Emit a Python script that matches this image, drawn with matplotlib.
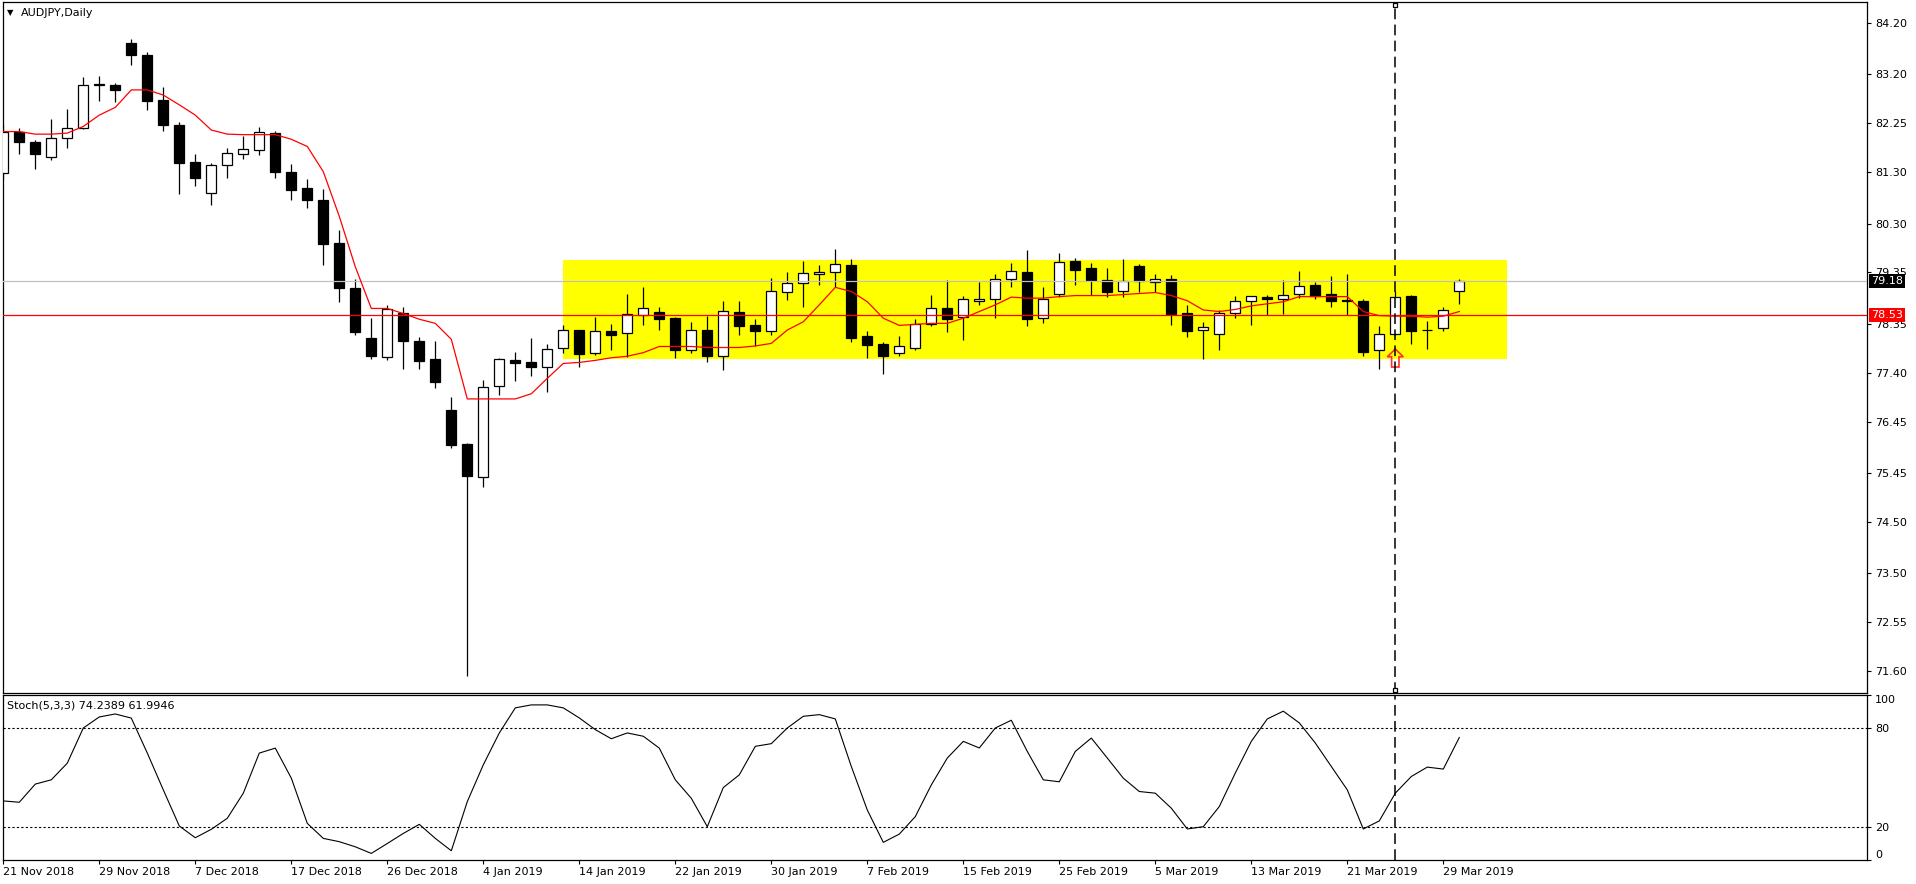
import matplotlib
matplotlib.use('Agg')
import matplotlib.pyplot as plt
from matplotlib.patches import Rectangle, Polygon

# AUDJPY daily, 21 Nov 2018 .. 1 Apr 2019 (one entry per bar)
opens = [81.29, 82.09, 81.88, 81.59, 81.96, 82.15, 83.00, 82.99, 83.81, 83.58,
         82.70, 82.22, 81.49, 80.89, 81.43, 81.65, 81.74, 82.06, 81.30, 80.99,
         80.76, 79.92, 79.05, 78.08, 77.70, 78.57, 78.02, 77.67, 76.67, 76.01,
         75.38, 77.15, 77.65, 77.61, 77.52, 77.88, 78.23, 77.79, 78.21, 78.17,
         78.53, 78.58, 78.46, 77.85, 78.23, 77.73, 78.58, 78.32, 78.22, 78.96,
         79.14, 79.31, 79.35, 79.50, 78.11, 77.96, 77.78, 77.89, 78.35, 78.65,
         78.48, 78.79, 78.83, 79.22, 79.35, 78.46, 78.94, 79.57, 79.44, 79.20,
         78.98, 79.48, 79.17, 79.22, 78.56, 78.24, 78.15, 78.57, 78.79, 78.87,
         78.84, 78.94, 79.11, 78.93, 78.81, 78.79, 77.84, 78.16, 78.89, 78.24,
         78.26, 78.98]
highs = [82.22, 82.15, 81.93, 82.34, 82.53, 83.15, 83.17, 83.04, 83.89, 83.63,
         82.95, 82.27, 81.66, 81.47, 81.77, 82.01, 82.17, 82.10, 81.46, 81.17,
         80.97, 80.18, 79.22, 78.46, 78.72, 78.68, 78.10, 78.02, 76.92, 76.03,
         77.26, 77.68, 77.80, 78.07, 77.96, 78.33, 78.24, 78.48, 78.35, 78.93,
         79.07, 78.67, 78.48, 78.39, 78.51, 78.79, 78.79, 78.44, 79.24, 79.36,
         79.57, 79.50, 79.81, 79.61, 78.21, 78.00, 78.11, 78.44, 78.91, 79.20,
         78.89, 79.17, 79.32, 79.53, 79.79, 79.06, 79.72, 79.63, 79.53, 79.44,
         79.61, 79.51, 79.32, 79.30, 78.72, 78.38, 78.62, 78.89, 78.90, 78.92,
         79.20, 79.38, 79.16, 79.28, 79.32, 78.83, 78.30, 78.99, 78.91, 78.41,
         78.68, 79.22]
lows = [81.16, 81.66, 81.37, 81.53, 81.78, 82.14, 82.69, 82.67, 83.39, 82.51,
        82.11, 80.88, 81.04, 80.67, 81.18, 81.56, 81.64, 81.19, 80.76, 80.60,
        79.50, 78.78, 78.14, 77.67, 77.65, 77.48, 77.48, 77.11, 75.94, 71.51,
        75.18, 76.97, 77.24, 77.34, 77.03, 77.78, 77.52, 77.74, 77.84, 77.71,
        78.33, 78.23, 77.69, 77.79, 77.60, 77.46, 78.14, 77.91, 78.14, 78.81,
        78.68, 79.11, 79.06, 78.00, 77.69, 77.38, 77.73, 77.84, 78.30, 78.20,
        78.04, 78.72, 78.47, 79.07, 78.30, 78.37, 78.88, 79.11, 78.91, 78.88,
        78.88, 78.97, 78.96, 78.33, 78.10, 77.67, 77.84, 78.46, 78.33, 78.52,
        78.55, 78.85, 78.83, 78.68, 78.52, 77.73, 77.48, 78.13, 77.96, 77.87,
        78.22, 78.74]
closes = [82.09, 81.88, 81.66, 81.96, 82.15, 82.99, 83.01, 82.89, 83.57, 82.69,
          82.22, 81.47, 81.19, 81.44, 81.67, 81.75, 82.08, 81.31, 80.96, 80.75,
          79.90, 79.05, 78.19, 77.73, 78.63, 78.02, 77.63, 77.21, 76.00, 75.40,
          77.12, 77.66, 77.59, 77.52, 77.86, 78.24, 77.77, 78.21, 78.14, 78.54,
          78.65, 78.45, 77.85, 78.23, 77.73, 78.60, 78.31, 78.22, 78.99, 79.14,
          79.34, 79.36, 79.51, 78.08, 77.93, 77.73, 77.91, 78.34, 78.65, 78.45,
          78.83, 78.83, 79.22, 79.37, 78.45, 78.83, 79.55, 79.40, 79.20, 78.96,
          79.18, 79.18, 79.22, 78.54, 78.22, 78.28, 78.57, 78.79, 78.89, 78.84,
          78.92, 79.09, 78.90, 78.80, 78.80, 77.81, 78.15, 78.87, 78.22, 78.24,
          78.61, 79.18]
ma_line = [82.09, 82.09, 82.04, 82.04, 82.06, 82.19, 82.41, 82.56, 82.90, 82.90,
           82.80, 82.61, 82.41, 82.12, 82.04, 82.03, 82.03, 82.03, 81.94, 81.80,
           81.31, 80.44, 79.46, 78.65, 78.65, 78.55, 78.44, 78.36, 78.05, 76.89,
           76.89, 76.89, 76.89, 76.99, 77.29, 77.58, 77.60, 77.64, 77.69, 77.72,
           77.79, 77.91, 77.91, 77.91, 77.89, 77.89, 77.89, 77.92, 77.97, 78.23,
           78.39, 78.72, 79.06, 78.98, 78.78, 78.46, 78.32, 78.34, 78.36, 78.36,
           78.46, 78.59, 78.72, 78.87, 78.85, 78.85, 78.88, 78.90, 78.90, 78.90,
           78.92, 78.94, 78.96, 78.90, 78.80, 78.62, 78.59, 78.63, 78.70, 78.74,
           78.78, 78.88, 78.88, 78.88, 78.88, 78.59, 78.51, 78.50, 78.50, 78.48,
           78.50, 78.59]
stoch_main = [35.8, 35.0, 46.0, 48.6, 58.7, 80.0, 86.7, 88.5, 86.0, 64.8,
              42.5, 20.6, 13.5, 18.6, 25.3, 40.5, 64.8, 67.8, 49.6, 22.2,
              13.1, 11.1, 8.0, 4.0, 10.0, 16.1, 21.6, 13.1, 5.6, 35.4,
              57.7, 77.0, 92.2, 94.0, 94.0, 92.2, 86.1, 79.0, 73.5, 77.0,
              75.0, 67.8, 48.6, 37.4, 20.2, 43.9, 51.6, 68.9, 70.5, 80.0,
              87.1, 88.1, 85.5, 56.7, 30.3, 10.7, 15.7, 26.3, 45.5, 61.8,
              71.9, 67.9, 80.0, 84.7, 65.8, 48.6, 47.4, 65.8, 73.9, 61.8,
              49.6, 41.5, 40.5, 31.4, 18.8, 20.2, 32.4, 52.7, 71.9, 85.5,
              90.2, 83.1, 70.9, 56.7, 42.5, 18.8, 23.7, 40.5, 50.6, 56.3,
              55.1, 74.24]

date_labels = ['21 Nov 2018', '29 Nov 2018', '7 Dec 2018', '17 Dec 2018',
               '26 Dec 2018', '4 Jan 2019', '14 Jan 2019', '22 Jan 2019',
               '30 Jan 2019', '7 Feb 2019', '15 Feb 2019', '25 Feb 2019',
               '5 Mar 2019', '13 Mar 2019', '21 Mar 2019', '29 Mar 2019']
price_ticks = [84.20, 83.20, 82.25, 81.30, 80.30, 79.35, 78.35, 77.40,
               76.45, 75.45, 74.50, 73.50, 72.55, 71.60]
stoch_ticks = [0, 20, 80, 100]

bid_price = 79.18
level_price = 78.53
zone_first_bar, zone_last_bar = 35, 94
zone_low, zone_high = 77.67, 79.59
marker_bar = 87

W, H = 1916, 884
fig = plt.figure(figsize=(W / 100, H / 100), dpi=100)
fig.patch.set_facecolor('white')

left, right = 2.5 / W, 1866.5 / W
ax = fig.add_axes([left, (H - 692.5) / H, right - left, 690.5 / H])
ax2 = fig.add_axes([left, (H - 860) / H, right - left, 165 / H])

n = len(opens)
xs = list(range(n))
x_min, x_max = -0.05, -0.05 + (1866.5 - 2.5) / 16.0

# --- main price panel ---
ax.add_patch(Rectangle((zone_first_bar, zone_low), zone_last_bar - zone_first_bar,
                       zone_high - zone_low, facecolor='#FFFF00', edgecolor='none', zorder=1))

ax.vlines(xs, lows, highs, color='black', linewidth=0.9, zorder=3)
body_bottom = [min(o, c) for o, c in zip(opens, closes)]
body_height = [abs(c - o) for o, c in zip(opens, closes)]
face = ['white' if c >= o else 'black' for o, c in zip(opens, closes)]
ax.bar(xs, body_height, bottom=body_bottom, width=0.63, color=face,
       edgecolor='black', linewidth=0.9, zorder=3)

ax.axhline(bid_price, color='#C0C0C0', linewidth=0.9, zorder=4)
ax.axhline(level_price, color='#FF0000', linewidth=0.9, zorder=4)
ax.plot(xs, ma_line, color='#FF0000', linewidth=0.9, zorder=5)

# up arrow below the marked bar
arrow = [(marker_bar, 77.86), (marker_bar + 0.5, 77.71), (marker_bar + 0.23, 77.71),
         (marker_bar + 0.23, 77.51), (marker_bar - 0.23, 77.51),
         (marker_bar - 0.23, 77.71), (marker_bar - 0.5, 77.71)]
ax.add_patch(Polygon(arrow, closed=True, facecolor='none', edgecolor='#FF3030',
                     linewidth=1.2, zorder=6))

ax.axvline(marker_bar, color='black', linewidth=1.1, dashes=(7, 3.5), zorder=6)
ax.set_xlim(x_min, x_max)
ax.set_ylim(71.18, 84.61)
ax.plot([marker_bar], [84.56], marker='s', ms=3, mfc='white', mec='black',
        mew=0.9, zorder=7, clip_on=False)
ax.plot([marker_bar], [71.22], marker='s', ms=3, mfc='white', mec='black',
        mew=0.9, zorder=7, clip_on=False)

ax.set_xticks([])
ax.yaxis.tick_right()
ax.set_yticks(price_ticks)
ax.set_yticklabels([f'{p:.2f}' for p in price_ticks])
ax.tick_params(axis='y', direction='out', length=3, width=0.8, pad=3,
               labelsize=8, colors='black')

for price, box in [(bid_price, 'black'), (level_price, '#FF0000')]:
    ax.annotate(f'{price:.2f}', xy=(1.0, price), xycoords=('axes fraction', 'data'),
                xytext=(3.5, 0), textcoords='offset points', ha='left', va='center',
                color='white', fontsize=8, zorder=10, annotation_clip=False,
                bbox=dict(boxstyle='square,pad=0.18', facecolor=box, edgecolor='none'))

for s in ax.spines.values():
    s.set_linewidth(0.9)

# --- stochastic panel ---
ax2.plot(xs, stoch_main, color='black', linewidth=0.8)
ax2.axhline(80, color='black', linewidth=0.8, dashes=(2, 2))
ax2.axhline(20, color='black', linewidth=0.8, dashes=(2, 2))
ax2.axvline(marker_bar, color='black', linewidth=1.1, dashes=(7, 3.5))
ax2.set_xlim(x_min, x_max)
ax2.set_ylim(0, 100)
ax2.yaxis.tick_right()
ax2.set_yticks(stoch_ticks)
ax2.set_yticklabels([str(v) for v in stoch_ticks])
ax2.tick_params(axis='y', direction='out', length=3, width=0.8, pad=3, labelsize=8)
ylabels = ax2.get_yticklabels()
ylabels[0].set_va('bottom')
ylabels[-1].set_va('top')

date_pos = list(range(0, n, 6))
ax2.set_xticks(date_pos)
ax2.set_xticklabels(date_labels)
for lbl in ax2.get_xticklabels():
    lbl.set_ha('left')
ax2.tick_params(axis='x', direction='out', length=3, width=0.8, pad=2, labelsize=8)
for s in ax2.spines.values():
    s.set_linewidth(0.9)

# --- captions ---
fig.text(7 / W, 1 - 12.7 / H, '\u25BC', fontsize=6, va='center', ha='left')
fig.text(21 / W, 1 - 12.7 / H, 'AUDJPY,Daily', fontsize=8, va='center', ha='left')
fig.text(7 / W, 1 - 705.7 / H, 'Stoch(5,3,3) 74.2389 61.9946', fontsize=8,
         va='center', ha='left')

fig.savefig('out.png', dpi=100)
